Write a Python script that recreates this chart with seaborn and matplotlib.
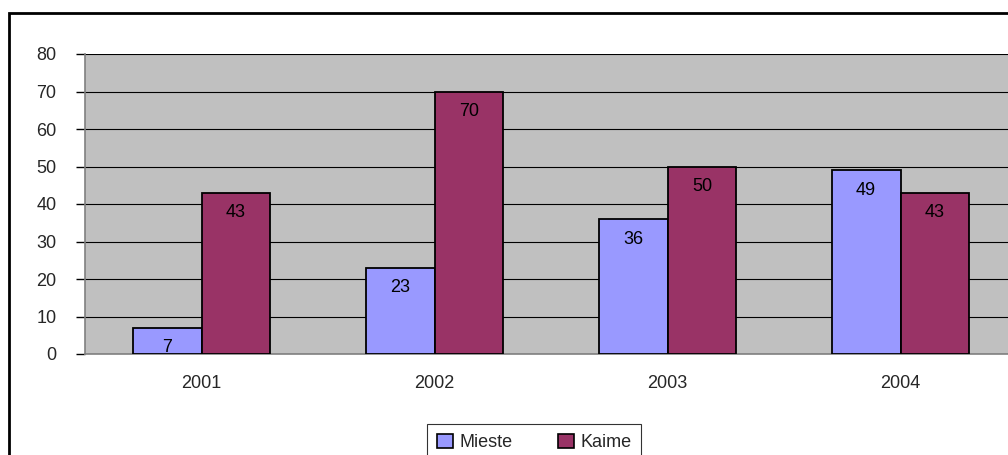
import matplotlib
matplotlib.use("Agg")
import matplotlib.pyplot as plt
import seaborn as sns
import pandas as pd
from matplotlib.patches import Rectangle

years = ["2001", "2002", "2003", "2004"]
series = ["Mieste", "Kaime"]
mieste = [7, 23, 36, 49]
kaime = [43, 70, 50, 43]
yticks = [0, 10, 20, 30, 40, 50, 60, 70, 80]
colors = ["#9999FF", "#993366"]

df = pd.DataFrame({
    "year": years * 2,
    "series": [series[0]] * 4 + [series[1]] * 4,
    "value": mieste + kaime,
})

sns.set_theme(style="white")
plt.rcParams["font.family"] = ["Liberation Sans", "DejaVu Sans"]

FS = 13

fig = plt.figure(figsize=(10.08, 4.55), dpi=100)
fig.patch.set_facecolor("white")
ax = fig.add_axes([85 / 1008, 101 / 455, 932 / 1008, 300 / 455])
ax.set_facecolor("#C0C0C0")

sns.barplot(data=df, x="year", y="value", hue="series", order=years,
            hue_order=series, palette=colors, saturation=1, width=0.592, ax=ax,
            edgecolor="black", linewidth=1.3, legend=False, zorder=3)

ax.set_ylim(0, 80)
ax.set_xlim(-0.5, 3.5)
ax.set_yticks(yticks)
ax.set_yticklabels([str(t) for t in yticks], fontsize=FS)
ax.yaxis.grid(True, color="black", linewidth=0.8, zorder=0)
ax.set_axisbelow(True)
ax.set_xlabel("")
ax.set_ylabel("")

ax.set_xticks(range(len(years)))
ax.set_xticklabels(years, fontsize=FS)
ax.tick_params(axis="x", which="major", length=0, pad=15)
ax.set_xticks([-0.5, 0.5, 1.5, 2.5], minor=True)
ax.tick_params(axis="x", which="minor", length=6, direction="out", color="#404040", width=1)
ax.tick_params(axis="y", which="major", length=6.5, direction="out", color="black", width=1, pad=14, left=True)

for side in ["top", "right"]:
    ax.spines[side].set_visible(False)
for side in ["left", "bottom"]:
    ax.spines[side].set_color("#808080")
    ax.spines[side].set_linewidth(1.2)

for cont, vals in zip(ax.containers, [mieste, kaime]):
    for patch, v in zip(cont.patches, vals):
        x = patch.get_x() + patch.get_width() / 2
        h = patch.get_height()
        ax.annotate(str(v), (x, h), xytext=(0, -14.5), textcoords="offset points",
                    ha="center", va="center", fontsize=FS, color="black", zorder=5)

handles = [Rectangle((0, 0), 1, 1, facecolor=c, edgecolor="black", linewidth=1.2) for c in colors]
leg = fig.legend(handles, series, loc="upper left", bbox_to_anchor=(427 / 1008, 31 / 455),
                 ncol=2, frameon=True, fancybox=False, edgecolor="black", fontsize=FS,
                 handlelength=0.9, handleheight=0.8, handletextpad=0.35, columnspacing=2.5,
                 borderpad=0.55, borderaxespad=0)
leg.get_frame().set_linewidth(0.8)

fig.patches.append(Rectangle((9 / 1008, -0.2), 1.2, 0.2 + (1 - 13 / 455),
                             transform=fig.transFigure, fill=False,
                             edgecolor="black", linewidth=2, zorder=10))

fig.savefig("out.png", dpi=100)
